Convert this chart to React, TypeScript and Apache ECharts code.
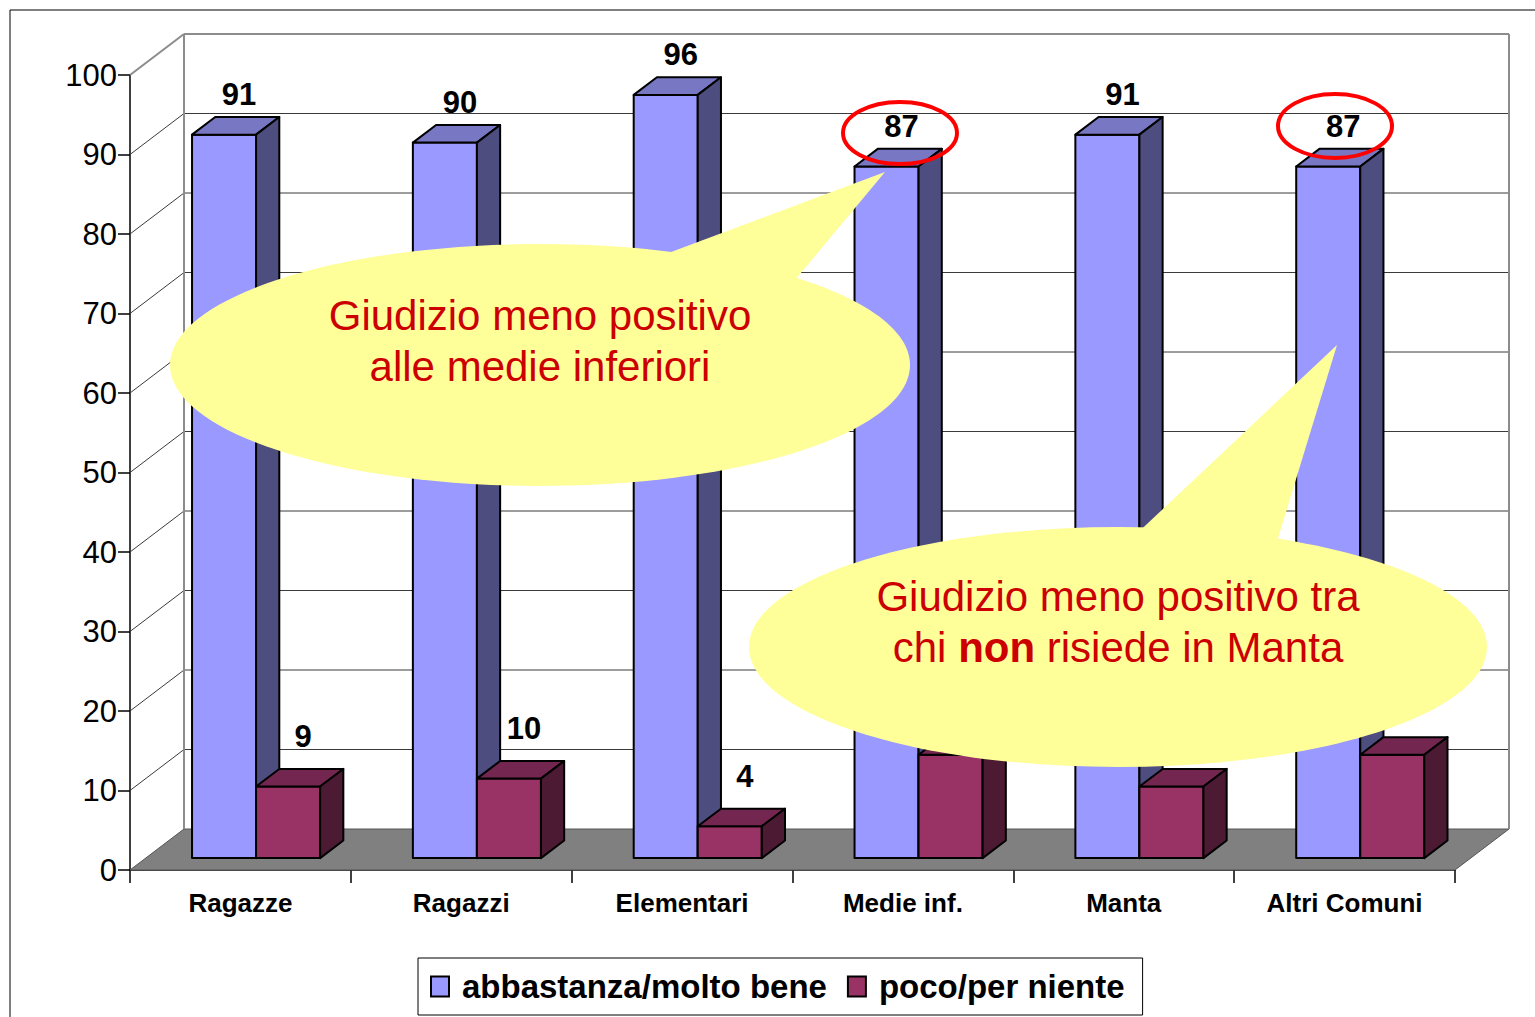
import React, { useEffect, useRef } from 'react';
import * as echarts from 'echarts';

const categories = ['Ragazze', 'Ragazzi', 'Elementari', 'Medie inf.', 'Manta', 'Altri Comuni'];
const goodValues = [91, 90, 96, 87, 91, 87];
const badValues = [9, 10, 4, 13, 9, 13];
const seriesNames = ['abbastanza/molto bene', 'poco/per niente'];
const yTicks = [0, 10, 20, 30, 40, 50, 60, 70, 80, 90, 100];

const FONT = 'Liberation Sans, Arial, sans-serif';
const DX = 54;
const DY = -41;
const Z0 = 0.29;
const Z1 = 0.72;
const BAR_FRAC = 0.29;

const palettes = [
  { front: '#9999FF', top: '#7777C4', side: '#4D4D80' },
  { front: '#993366', top: '#73264F', side: '#4D1A33' },
];

function wallRender(params: any, api: any) {
  const cs = params.coordSys;
  const gL = cs.x;
  const gR = cs.x + cs.width;
  const children: any[] = [];
  const y0 = api.coord([0, 0])[1];
  const yMax = api.coord([0, yTicks[yTicks.length - 1]])[1];
  children.push({
    type: 'polygon',
    shape: { points: [[gL, y0], [gL + DX, y0 + DY], [gR + DX, y0 + DY], [gR, y0]] },
    style: { fill: '#808080', stroke: '#555', lineWidth: 1 },
  });
  yTicks.forEach((v) => {
    if (v === 0) return;
    const y = api.coord([0, v])[1];
    const isTop = v === yTicks[yTicks.length - 1];
    const col = isTop ? '#8C8C8C' : '#3A3A3A';
    children.push({
      type: 'line',
      shape: { x1: gL + DX, y1: y + DY, x2: gR + DX, y2: y + DY },
      style: { stroke: col, lineWidth: isTop ? 2 : 1 },
    });
    children.push({
      type: 'line',
      shape: { x1: gL, y1: y, x2: gL + DX, y2: y + DY },
      style: { stroke: col, lineWidth: isTop ? 2 : 1 },
    });
  });
  children.push({
    type: 'line',
    shape: { x1: gL + DX, y1: yMax + DY, x2: gL + DX, y2: y0 + DY },
    style: { stroke: '#8C8C8C', lineWidth: 2 },
  });
  children.push({
    type: 'line',
    shape: { x1: gR + DX, y1: yMax + DY, x2: gR + DX, y2: y0 + DY },
    style: { stroke: '#8C8C8C', lineWidth: 2 },
  });
  return { type: 'group', children };
}

function makeBarRender(idx: number, labelOffset: number) {
  const pal = palettes[idx];
  return (params: any, api: any) => {
    const ci = api.value(0);
    const v = api.value(1);
    const top = api.coord([ci, v]);
    const base = api.coord([ci, 0]);
    const band = api.size([1, 0])[0];
    const w = band * BAR_FRAC;
    const fx = Z0 * DX;
    const fy = Z0 * DY;
    const ddx = (Z1 - Z0) * DX;
    const ddy = (Z1 - Z0) * DY;
    const L = top[0] + fx + (idx === 0 ? -w : 0);
    const R = L + w;
    const T = top[1] + fy;
    const B = base[1] + fy;
    const stroke = { stroke: '#000', lineWidth: 2, lineJoin: 'round' };
    return {
      type: 'group',
      children: [
        {
          type: 'polygon',
          shape: { points: [[L, T], [R, T], [R, B], [L, B]] },
          style: { fill: pal.front, ...stroke },
        },
        {
          type: 'polygon',
          shape: { points: [[L, T], [L + ddx, T + ddy], [R + ddx, T + ddy], [R, T]] },
          style: { fill: pal.top, ...stroke },
        },
        {
          type: 'polygon',
          shape: { points: [[R, T], [R + ddx, T + ddy], [R + ddx, B + ddy], [R, B]] },
          style: { fill: pal.side, ...stroke },
        },
        {
          type: 'text',
          x: (L + R) / 2 + 15,
          y: T - labelOffset,
          style: {
            text: String(v),
            fill: '#000',
            fontSize: 31,
            fontWeight: 'bold',
            fontFamily: FONT,
            align: 'center',
            verticalAlign: 'middle',
          },
        },
      ],
    };
  };
}

function buildOption() {
  const callFill = '#FFFF99';
  const textRed = '#CC0000';
  return {
    animation: false,
    backgroundColor: '#fff',
    grid: { left: 130, top: 75, width: 1325, height: 795, containLabel: false },
    xAxis: {
      type: 'category',
      data: categories,
      boundaryGap: true,
      axisLine: { show: true, lineStyle: { color: '#000', width: 1.5 } },
      axisTick: { show: true, length: 13, lineStyle: { color: '#000', width: 1.5 } },
      axisLabel: { color: '#000', fontSize: 26, fontWeight: 'bold', fontFamily: FONT, margin: 20 },
      splitLine: { show: false },
    },
    yAxis: {
      type: 'value',
      min: 0,
      max: 100,
      interval: 10,
      axisLine: { show: true, lineStyle: { color: '#000', width: 1.5 } },
      axisTick: { show: true, length: 12, lineStyle: { color: '#000', width: 1.5 } },
      axisLabel: { color: '#000', fontSize: 31, fontFamily: FONT, margin: 13 },
      splitLine: { show: false },
    },
    legend: {
      data: seriesNames,
      left: 418,
      top: 958,
      orient: 'horizontal',
      padding: [11, 18, 11, 12],
      itemGap: 20,
      itemWidth: 18,
      itemHeight: 20,
      icon: 'rect',
      borderColor: '#000',
      borderWidth: 1,
      backgroundColor: '#fff',
      itemStyle: { borderColor: '#000', borderWidth: 2 },
      textStyle: { color: '#000', fontSize: 33, fontWeight: 'bold', fontFamily: FONT, padding: [0, 0, 0, 8], lineHeight: 35 },
    },
    series: [
      {
        type: 'custom',
        name: 'walls',
        coordinateSystem: 'cartesian2d',
        renderItem: wallRender,
        data: [[0, 0]],
        z: 1,
        clip: false,
        silent: true,
      },
      {
        type: 'custom',
        name: seriesNames[0],
        coordinateSystem: 'cartesian2d',
        renderItem: makeBarRender(0, 40),
        data: goodValues.map((v, i) => [i, v]),
        itemStyle: { color: palettes[0].front, borderColor: '#000', borderWidth: 2 },
        z: 3,
        clip: false,
      },
      {
        type: 'custom',
        name: seriesNames[1],
        coordinateSystem: 'cartesian2d',
        renderItem: makeBarRender(1, 50),
        data: badValues.map((v, i) => [i, v]),
        itemStyle: { color: palettes[1].front, borderColor: '#000', borderWidth: 2 },
        z: 4,
        clip: false,
      },
    ],
    graphic: [
      {
        type: 'rect',
        z: 0,
        shape: { x: 10, y: 10, width: 1600, height: 1100 },
        style: { fill: 'transparent', stroke: '#000', lineWidth: 1 },
        silent: true,
      },
      {
        type: 'polygon',
        z: 100,
        shape: { points: [[655, 258], [795, 280], [885, 172]] },
        style: { fill: callFill },
      },
      {
        type: 'ellipse',
        z: 100,
        shape: { cx: 540, cy: 365, rx: 370, ry: 121 },
        style: { fill: callFill },
      },
      {
        type: 'text',
        z: 101,
        x: 540,
        y: 341,
        style: {
          text: 'Giudizio meno positivo\nalle medie inferiori',
          fill: textRed,
          fontSize: 42,
          fontFamily: FONT,
          lineHeight: 51,
          align: 'center',
          verticalAlign: 'middle',
        },
      },
      {
        type: 'polygon',
        z: 100,
        shape: { points: [[1130, 540], [1275, 548], [1337, 345]] },
        style: { fill: callFill },
      },
      {
        type: 'ellipse',
        z: 100,
        shape: { cx: 1118, cy: 647, rx: 369, ry: 120 },
        style: { fill: callFill },
      },
      {
        type: 'text',
        z: 101,
        x: 1118,
        y: 622,
        style: {
          text: 'Giudizio meno positivo tra\nchi {b|non} risiede in Manta',
          fill: textRed,
          fontSize: 42,
          fontFamily: FONT,
          lineHeight: 51,
          align: 'center',
          verticalAlign: 'middle',
          rich: {
            b: { fontWeight: 'bold', fontSize: 42, fontFamily: FONT, fill: textRed, lineHeight: 51 },
          },
        },
      },
      {
        type: 'ellipse',
        z: 102,
        shape: { cx: 900, cy: 133, rx: 57, ry: 31 },
        style: { fill: 'none', stroke: '#FF0000', lineWidth: 4 },
      },
      {
        type: 'ellipse',
        z: 102,
        shape: { cx: 1335, cy: 126, rx: 57, ry: 32 },
        style: { fill: 'none', stroke: '#FF0000', lineWidth: 4 },
      },
    ],
  };
}

export default function App() {
  const ref = useRef<HTMLDivElement>(null);
  useEffect(() => {
    if (!ref.current) return;
    const chart = echarts.init(ref.current, null, { renderer: 'svg' });
    chart.setOption(buildOption() as any);
    return () => chart.dispose();
  }, []);
  return (
    <div
      ref={ref}
      style={{ position: 'fixed', left: 0, top: 0, width: 1535, height: 1017, background: '#fff' }}
    />
  );
}
